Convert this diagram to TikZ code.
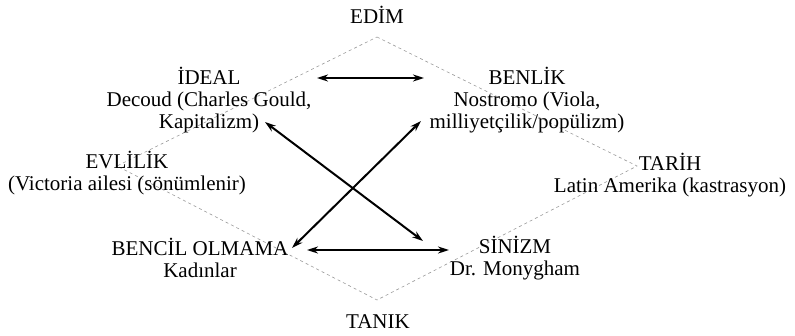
\documentclass[tikz,border=0pt]{standalone}
\usepackage{fontspec}
\setmainfont{Liberation Serif}
\usetikzlibrary{arrows.meta}
\begin{document}
\begin{tikzpicture}[x=1pt,y=-1pt,
  lbl/.style={align=center,inner sep=0pt,font=\fontsize{21}{22}\selectfont},
  dia/.style={gray!80,dashed,dash pattern=on 3pt off 3pt,line width=0.6pt},
  arr/.style={{Stealth[length=11pt,width=7pt]}-{Stealth[length=11pt,width=7pt]},line width=2pt}]
\useasboundingbox (0,0) rectangle (795,335);
% diamond
\coordinate (T) at (377,37);
\coordinate (R) at (637,166);
\coordinate (B) at (377,300);
\coordinate (L) at (117,166);
\draw[dia] (T) -- (R) -- (B) -- (L) -- cycle;
% labels
\node[lbl] (edim) at (377,15) {EDİM};
\node[lbl] (tanik) at (378,322) {TANIK};
\node[lbl] (ideal) at (209,100) {İDEAL\\Decoud (Charles Gould,\\Kapitalizm)};
\node[lbl] (benlik) at (527,100) {BENLİK\\Nostromo (Viola,\\milliyetçilik/popülizm)};
\node[lbl] (evlilik) at (127,173) {EVLİLİK\\(Victoria ailesi (sönümlenir)};
\node[lbl] (tarih) at (670,175) {TARİH\\Latin Amerika (kastrasyon)};
\node[lbl] (bencil) at (200,258) {BENCİL OLMAMA\\Kadınlar};
\node[lbl] (sinizm) at (515,258) {SİNİZM\\Dr. Monygham};
% arrow endpoints
\coordinate (a1) at (317,78);
\coordinate (a2) at (424,78);
\coordinate (b1) at (307,250);
\coordinate (b2) at (449,250);
\coordinate (c1) at (265,122);
\coordinate (c2) at (423,241);
\coordinate (d1) at (421,121);
\coordinate (d2) at (292,248);
\draw[arr] (a1) -- (a2);
\draw[arr] (b1) -- (b2);
\draw[arr] (c1) -- (c2);
\draw[arr] (d1) -- (d2);
\end{tikzpicture}
\end{document}
